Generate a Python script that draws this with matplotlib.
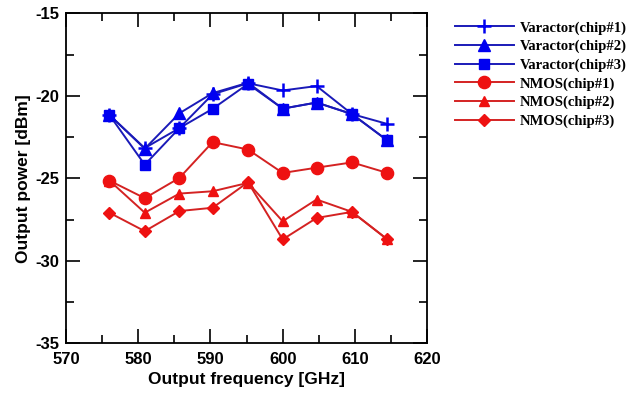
import matplotlib
matplotlib.use("Agg")
import matplotlib.pyplot as plt
from matplotlib.ticker import MultipleLocator

plt.rcParams["axes.unicode_minus"] = False

freq = [576.0, 580.9, 585.7, 590.3, 595.2, 600.0, 604.7, 609.6, 614.5]
var_chip1 = [-21.15, -23.16, -21.95, -19.9, -19.23, -19.67, -19.4, -21.1, -21.7]
var_chip2 = [-21.15, -23.2, -21.05, -19.83, -19.2, -20.77, -20.4, -21.1, -22.7]
var_chip3 = [-21.15, -24.17, -21.95, -20.78, -19.27, -20.77, -20.4, -21.1, -22.7]
nmos_chip1 = [-25.13, -26.2, -24.97, -22.8, -23.25, -24.67, -24.35, -24.03, -24.67]
nmos_chip2 = [-25.13, -27.08, -25.92, -25.78, -25.27, -27.6, -26.28, -27.03, -28.7]
nmos_chip3 = [-27.08, -28.2, -26.98, -26.78, -25.23, -28.7, -27.4, -27.03, -28.7]

labels = ["Varactor(chip#1)", "Varactor(chip#2)", "Varactor(chip#3)",
          "NMOS(chip#1)", "NMOS(chip#2)", "NMOS(chip#3)"]

fig = plt.figure(figsize=(6.29, 3.96), dpi=100)
ax = fig.add_axes([0.105, 0.133, 0.574, 0.833])

blue_l, blue_m = "#1a1ab8", "#0000f0"
red_l, red_m = "#d42222", "#ee1111"

series = [
    (var_chip1, "+", 10, blue_l, blue_m),
    (var_chip2, "^", 8, blue_l, blue_m),
    (var_chip3, "s", 7, blue_l, blue_m),
    (nmos_chip1, "o", 8.8, red_l, red_m),
    (nmos_chip2, "^", 7, red_l, red_m),
    (nmos_chip3, "D", 6, red_l, red_m),
]
handles = []
for (vals, mk, ms, lc, mc), lab in zip(series, labels):
    h, = ax.plot(freq, vals, color=lc, lw=1.4, marker=mk, markersize=ms,
                 markerfacecolor=mc, markeredgecolor=mc, markeredgewidth=1.8 if mk == "+" else 1.0,
                 label=lab)
    handles.append(h)

ax.set_xlim(570, 620)
ax.set_ylim(-35, -15)
ax.xaxis.set_major_locator(MultipleLocator(10))
ax.xaxis.set_minor_locator(MultipleLocator(5))
ax.yaxis.set_major_locator(MultipleLocator(5))
ax.yaxis.set_minor_locator(MultipleLocator(2.5))
ax.tick_params(which="both", direction="in", top=True, right=True, width=1.2)
ax.tick_params(which="major", length=10)
ax.tick_params(which="minor", length=6)
ax.tick_params(axis="x", which="major", pad=6)
ax.tick_params(axis="y", which="major", pad=5)
for sp in ax.spines.values():
    sp.set_linewidth(1.3)

for lab in ax.get_xticklabels() + ax.get_yticklabels():
    lab.set_fontfamily("Liberation Sans")
    lab.set_fontweight("bold")
    lab.set_fontsize(12)
ax.set_xlabel("Output frequency [GHz]", fontfamily="Liberation Sans", fontweight="bold", fontsize=12.5, labelpad=4)
ax.set_ylabel("Output power [dBm]", fontfamily="Liberation Sans", fontweight="bold", fontsize=12.5, labelpad=3)

fig.legend(handles=handles, labels=labels, loc="upper left", bbox_to_anchor=(0.703, 0.98),
           frameon=False, prop=dict(family="Liberation Serif", weight="bold", size=10.5),
           handlelength=4.0, labelspacing=0.36, handletextpad=0.4)

fig.savefig("out.png", dpi=100)
